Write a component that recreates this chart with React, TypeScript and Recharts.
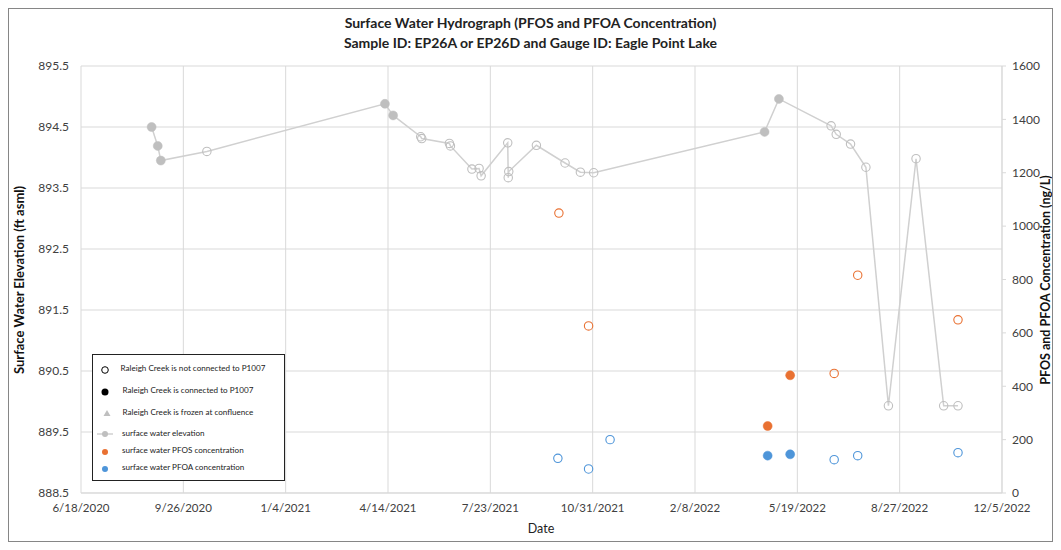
import React from "react";
import { ComposedChart, Scatter, XAxis, YAxis, CartesianGrid } from "recharts";

// Dates are Excel serial day numbers (44000 = 6/18/2020)
const xTicks = [44000, 44100, 44200, 44300, 44400, 44500, 44600, 44700, 44800, 44900];
const xTickLabels = ["6/18/2020", "9/26/2020", "1/4/2021", "4/14/2021", "7/23/2021", "10/31/2021", "2/8/2022", "5/19/2022", "8/27/2022", "12/5/2022"];
const leftTicks = [888.5, 889.5, 890.5, 891.5, 892.5, 893.5, 894.5, 895.5];
const rightTicks = [0, 200, 400, 600, 800, 1000, 1200, 1400, 1600];

const elevDates = [44069, 44075, 44078, 44123, 44297, 44305, 44332, 44333, 44360, 44361, 44382, 44389, 44391, 44417, 44417.5, 44418, 44445, 44473, 44488, 44501, 44668, 44682, 44733, 44738, 44752, 44767, 44789, 44816, 44843, 44857];
const elevValues = [894.5, 894.19, 893.95, 894.1, 894.88, 894.69, 894.34, 894.31, 894.23, 894.19, 893.81, 893.82, 893.7, 894.24, 893.67, 893.77, 894.2, 893.91, 893.76, 893.75, 894.42, 894.96, 894.52, 894.38, 894.22, 893.84, 889.93, 893.98, 889.93, 889.93];
const elevConnected = [1, 1, 1, 0, 1, 1, 0, 0, 0, 0, 0, 0, 0, 0, 0, 0, 0, 0, 0, 0, 1, 1, 0, 0, 0, 0, 0, 0, 0, 0];

const pfosDates = [44467, 44496, 44671, 44693, 44736, 44759, 44857];
const pfosValues = [1049, 626, 251, 441, 448, 816, 649];
const pfosConnected = [0, 0, 1, 1, 0, 0, 0];

const pfoaDates = [44466, 44496, 44517, 44671, 44693, 44736, 44759, 44857];
const pfoaValues = [130, 90, 200, 140, 145, 125, 140, 151];
const pfoaConnected = [0, 0, 0, 1, 1, 0, 0, 0];

const GRAY = "#bfbfbf";
const LINE_GRAY = "#d0d0d0";
const ORANGE = "#E97132";
const BLUE = "#4E95D9";
const GRID = "#d9d9d9";
const FONT = "Lato, 'DejaVu Sans', sans-serif";

const build = (dates: number[], vals: number[], conn: number[]) =>
  dates.map((d, i) => ({ date: d, y: vals[i], connected: conn[i] === 1 }));

const elevData = build(elevDates, elevValues, elevConnected);
const pfosData = build(pfosDates, pfosValues, pfosConnected);
const pfoaData = build(pfoaDates, pfoaValues, pfoaConnected);

const makeShape = (color: string, r: number) => (props: any) => {
  const { cx, cy, payload } = props;
  if (cx == null || cy == null) return <g />;
  return payload && payload.connected ? (
    <circle cx={cx} cy={cy} r={r} fill={color} stroke={color} strokeWidth={0.5} />
  ) : (
    <circle cx={cx} cy={cy} r={r - 0.3} fill="none" stroke={color} strokeWidth={1.1} />
  );
};

const fmtX = (v: number) => {
  const i = xTicks.indexOf(v);
  return i >= 0 ? xTickLabels[i] : String(v);
};

const legendItems = [
  { kind: "open", text: "Raleigh Creek is not connected to P1007", y: 359, tx: 111.5 },
  { kind: "filled", text: "Raleigh Creek is connected to P1007", y: 381, tx: 113.5 },
  { kind: "tri", text: "Raleigh Creek is frozen at confluence", y: 403, tx: 113.5 },
  { kind: "line", text: "surface water elevation", y: 424, tx: 113 },
  { kind: "pfos", text: "surface water PFOS concentration", y: 441, tx: 113 },
  { kind: "pfoa", text: "surface water PFOA concentration", y: 458, tx: 113 },
];

export default function App() {
  return (
    <div
      style={{
        position: "relative",
        width: 1045,
        height: 534,
        border: "1px solid #868686",
        boxSizing: "border-box",
        background: "#fff",
        fontFamily: FONT,
      }}
    >
      <ComposedChart
        width={1043}
        height={532}
        margin={{ top: 57, right: 10, bottom: 10, left: 10 }}
      >
        <CartesianGrid stroke={GRID} strokeWidth={1} yAxisId="left" />
        <XAxis
          type="number"
          dataKey="date"
          domain={[44000, 44900]}
          ticks={xTicks}
          interval={0}
          allowDataOverflow
          tickFormatter={fmtX}
          height={38}
          axisLine={{ stroke: GRID }}
          tickLine={false}
          tickSize={0}
          tickMargin={11}
          tick={{ fontSize: 11.5, fill: "#404040", fontFamily: FONT }}
        />
        <YAxis
          yAxisId="left"
          type="number"
          dataKey="y"
          domain={[888.5, 895.5]}
          ticks={leftTicks}
          interval={0}
          allowDataOverflow
          width={62}
          axisLine={false}
          tickLine={false}
          tickSize={0}
          tickMargin={12}
          tickFormatter={(v: number) => v.toFixed(1)}
          tick={{ fontSize: 12, fill: "#404040", fontFamily: FONT }}
        />
        <YAxis
          yAxisId="right"
          orientation="right"
          type="number"
          dataKey="y"
          domain={[0, 1600]}
          ticks={rightTicks}
          interval={0}
          allowDataOverflow
          width={40}
          axisLine={{ stroke: GRID }}
          tickLine={{ stroke: GRID }}
          tickSize={4}
          tickMargin={6}
          tick={{ fontSize: 12, fill: "#404040", fontFamily: FONT }}
        />
        <Scatter
          name="surface water elevation"
          data={elevData}
          yAxisId="left"
          line={{ stroke: LINE_GRAY, strokeWidth: 1.5 }}
          lineJointType="linear"
          shape={makeShape(GRAY, 4.5)}
          isAnimationActive={false}
        />
        <Scatter
          name="surface water PFOS concentration"
          data={pfosData}
          yAxisId="right"
          shape={makeShape(ORANGE, 4.5)}
          isAnimationActive={false}
        />
        <Scatter
          name="surface water PFOA concentration"
          data={pfoaData}
          yAxisId="right"
          shape={makeShape(BLUE, 4.5)}
          isAnimationActive={false}
        />
      </ComposedChart>
      <svg
        width={1043}
        height={532}
        style={{ position: "absolute", left: 0, top: 0, pointerEvents: "none" }}
        fontFamily={FONT}
      >
        <text x={521.5} y={13} textAnchor="middle" dominantBaseline="central" fontSize={14} fontWeight="bold" fill="#222">
          Surface Water Hydrograph (PFOS and PFOA Concentration)
        </text>
        <text x={521.5} y={33} textAnchor="middle" dominantBaseline="central" fontSize={14} fontWeight="bold" fill="#222">
          Sample ID: EP26A or EP26D and Gauge ID: Eagle Point Lake
        </text>
        <text
          x={10}
          y={271}
          textAnchor="middle"
          dominantBaseline="central"
          fontSize={13}
          fontWeight="bold"
          fill="#111"
          transform="rotate(-90 10 271)"
        >
          Surface Water Elevation (ft asml)
        </text>
        <text
          x={1036}
          y={271}
          textAnchor="middle"
          dominantBaseline="central"
          fontSize={12.5}
          fontWeight="bold"
          fill="#111"
          transform="rotate(-90 1036 271)"
        >
          PFOS and  PFOA Concentration (ng/L)
        </text>
        <text x={532} y={519} textAnchor="middle" dominantBaseline="central" fontSize={12.5} fill="#222">
          Date
        </text>
        <rect x={83.5} y={345.5} width={192} height={126} fill="#fff" stroke="#222" strokeWidth={1} />
        {legendItems.map((it) => (
          <g key={it.text}>
            {it.kind === "open" && <circle cx={96} cy={it.y + 2} r={3.3} fill="none" stroke="#000" strokeWidth={1} />}
            {it.kind === "filled" && <circle cx={96} cy={it.y + 2} r={3.5} fill="#000" />}
            {it.kind === "tri" && <polygon points={`98,${it.y - 2} 101.5,${it.y + 4} 94.5,${it.y + 4}`} fill={GRAY} />}
            {it.kind === "line" && (
              <g>
                <line x1={88} x2={104} y1={it.y + 1} y2={it.y + 1} stroke={LINE_GRAY} strokeWidth={1.5} />
                <circle cx={96} cy={it.y + 1} r={3} fill={GRAY} />
              </g>
            )}
            {it.kind === "pfos" && <circle cx={96} cy={it.y + 2} r={3} fill={ORANGE} />}
            {it.kind === "pfoa" && <circle cx={96} cy={it.y + 2} r={3} fill={BLUE} />}
            <text x={it.tx} y={it.y} dominantBaseline="central" fontSize={8.1} fill="#222">
              {it.text}
            </text>
          </g>
        ))}
      </svg>
    </div>
  );
}
